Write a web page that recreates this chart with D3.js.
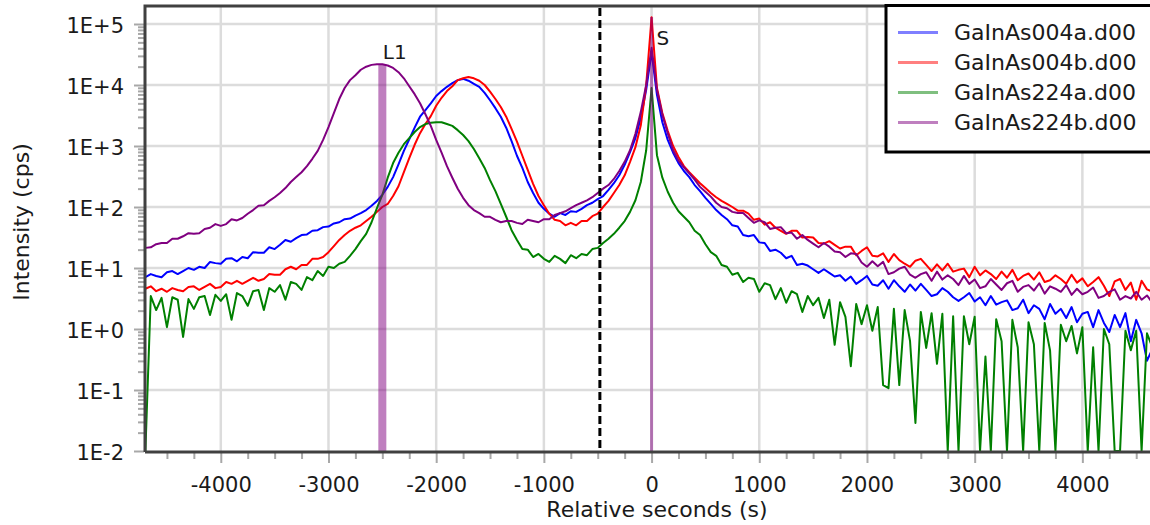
<!DOCTYPE html>
<html>
<head>
<meta charset="utf-8">
<script src="https://cdn.jsdelivr.net/npm/d3@7"></script>
<style>
  html, body { margin: 0; padding: 0; background: #ffffff; }
  svg { display: block; }
  text { font-family: "DejaVu Sans", Verdana, sans-serif; }
</style>
</head>
<body>
<svg id="chart" width="1150" height="525"></svg>
<script>
// Scan sampling grid: one sample every 50 s, starting at -4700 s
const tStart = -4700;
const tStep = 50;

// log10 of intensity (cps) for each sample; null = no counts recorded
const gainas004a = [
  0.85,0.90,0.87,0.85,0.93,0.95,0.90,0.95,1.00,0.97,
  1.02,1.00,1.10,1.08,1.07,1.15,1.16,1.11,1.18,1.16,
  1.26,1.25,1.25,1.34,1.31,1.38,1.46,1.43,1.49,1.54,
  1.55,1.61,1.62,1.67,1.68,1.73,1.75,1.80,1.81,1.86,
  1.90,1.95,2.02,2.10,2.20,2.33,2.49,2.70,2.92,3.11,
  3.30,3.48,3.59,3.70,3.82,3.90,3.97,4.03,4.08,4.10,
  4.07,4.02,3.97,3.87,3.75,3.62,3.48,3.30,3.08,2.84,
  2.64,2.41,2.23,2.07,1.97,1.89,1.84,1.90,1.87,1.93,
  1.92,1.97,2.03,2.07,2.13,2.18,2.28,2.39,2.52,2.69,
  2.90,3.13,3.46,3.92,4.54,3.84,3.39,3.10,2.89,2.72,
  2.59,2.49,2.36,2.26,2.15,2.05,1.95,1.87,1.80,1.70,
  1.68,1.54,1.52,1.54,1.42,1.41,1.28,1.30,1.25,1.16,
  1.20,1.05,1.07,1.04,0.98,0.92,0.98,0.92,0.86,0.88,
  0.79,0.86,0.74,0.80,0.87,0.73,0.71,0.80,0.66,0.80,
  0.70,0.61,0.73,0.63,0.74,0.64,0.54,0.57,0.67,0.61,
  0.52,0.46,0.52,0.59,0.45,0.52,0.39,0.54,0.40,0.44,
  0.47,0.31,0.34,0.48,0.26,0.39,0.33,0.16,0.41,0.25,
  0.33,0.18,0.36,0.11,0.25,0.28,0.03,0.31,0.10,-0.05,
  0.23,0.03,0.26,-0.20,0.15,-0.07,-0.52,-0.33
];

const gainas004b = [
  0.66,0.70,0.62,0.66,0.61,0.67,0.64,0.62,0.69,0.70,
  0.64,0.69,0.74,0.67,0.69,0.77,0.74,0.79,0.74,0.79,
  0.84,0.79,0.82,0.90,0.89,0.89,0.98,1.02,0.98,1.05,
  1.05,1.15,1.15,1.18,1.26,1.36,1.46,1.54,1.61,1.66,
  1.70,1.77,1.84,1.92,2.00,2.05,2.18,2.34,2.57,2.80,
  3.02,3.21,3.36,3.49,3.66,3.79,3.90,3.98,4.08,4.11,
  4.13,4.11,4.07,4.00,3.89,3.77,3.64,3.48,3.28,3.07,
  2.84,2.61,2.38,2.18,2.03,1.89,1.79,1.77,1.70,1.74,
  1.70,1.77,1.77,1.85,1.89,2.00,2.10,2.23,2.36,2.52,
  2.74,2.98,3.34,4.00,5.11,3.95,3.54,3.25,3.00,2.82,
  2.67,2.57,2.48,2.39,2.31,2.23,2.16,2.10,2.05,2.00,
  1.94,1.94,1.89,1.79,1.81,1.71,1.75,1.66,1.61,1.56,
  1.61,1.61,1.50,1.51,1.50,1.41,1.40,1.44,1.38,1.32,
  1.35,1.35,1.21,1.28,1.34,1.20,1.19,1.24,1.10,1.23,
  1.13,1.07,1.02,1.12,1.15,1.05,0.95,1.06,0.96,1.07,
  0.94,0.97,0.99,0.85,1.02,0.88,0.96,0.90,0.82,0.94,
  0.84,0.97,0.80,0.87,0.91,0.81,0.93,0.77,0.80,0.88,
  0.82,0.74,0.89,0.76,0.83,0.70,0.77,0.85,0.71,0.54,
  0.78,0.82,0.64,0.76,0.48,0.79,0.65,0.61
];

const gainas224a = [
  null,0.54,0.31,0.51,0.03,0.52,0.48,-0.13,0.49,0.33,
  0.52,0.54,0.23,0.56,0.46,0.57,0.15,0.59,0.54,0.38,
  0.62,0.64,0.31,0.67,0.61,0.72,0.48,0.77,0.74,0.64,
  0.85,0.80,0.95,0.87,1.02,1.00,1.07,1.10,1.20,1.31,
  1.44,1.56,1.75,1.98,2.20,2.48,2.72,2.89,3.03,3.13,
  3.23,3.31,3.36,3.38,3.39,3.39,3.36,3.33,3.26,3.18,
  3.08,2.95,2.80,2.64,2.44,2.26,2.05,1.84,1.62,1.46,
  1.31,1.30,1.18,1.23,1.15,1.10,1.20,1.15,1.08,1.21,
  1.16,1.23,1.21,1.31,1.33,1.41,1.48,1.56,1.66,1.77,
  1.92,2.11,2.41,2.93,3.95,2.85,2.48,2.25,2.07,1.93,
  1.84,1.75,1.61,1.54,1.39,1.26,1.20,1.05,1.02,0.89,
  0.92,0.77,0.84,0.82,0.61,0.75,0.72,0.49,0.67,0.43,
  0.62,0.57,0.28,0.54,0.39,0.51,0.18,0.48,-0.26,0.44,
  0.20,-0.61,0.41,0.08,0.39,-0.03,0.36,-0.92,-0.97,0.33,
  -0.92,0.31,-0.20,-1.54,0.28,-0.31,0.26,-0.57,0.25,null,
  0.21,null,0.21,-0.25,0.20,null,-0.45,null,0.16,-0.20,
  null,0.15,-0.30,null,0.11,-0.25,null,0.10,-0.35,null,
  0.07,-0.20,0.05,-0.40,0.03,null,-0.30,null,0.00,-0.25,
  null,null,-0.03,-0.35,-0.03,null,-0.07,-0.30
];

const gainas224b = [
  1.33,1.34,1.39,1.41,1.41,1.48,1.48,1.52,1.57,1.56,
  1.57,1.64,1.66,1.72,1.69,1.72,1.80,1.78,1.82,1.89,
  1.95,2.02,2.03,2.10,2.16,2.23,2.31,2.41,2.49,2.57,
  2.67,2.79,2.92,3.10,3.31,3.54,3.77,3.95,4.08,4.16,
  4.25,4.30,4.33,4.34,4.34,4.32,4.28,4.21,4.11,3.98,
  3.85,3.70,3.52,3.33,3.10,2.89,2.67,2.48,2.30,2.15,
  2.03,1.95,1.90,1.84,1.84,1.79,1.75,1.77,1.77,1.74,
  1.72,1.79,1.77,1.75,1.80,1.80,1.87,1.90,1.93,1.98,
  2.03,2.07,2.11,2.16,2.23,2.30,2.36,2.46,2.59,2.74,
  2.93,3.20,3.56,4.00,4.61,3.92,3.51,3.21,2.93,2.76,
  2.65,2.55,2.45,2.33,2.25,2.17,2.07,2.00,1.98,1.92,
  1.90,1.90,1.82,1.74,1.78,1.75,1.64,1.66,1.67,1.57,
  1.58,1.48,1.54,1.46,1.40,1.34,1.41,1.35,1.27,1.26,
  1.18,1.24,1.23,1.09,1.02,1.11,1.03,1.10,0.90,0.93,
  0.99,1.02,0.89,0.84,0.90,0.93,0.79,0.94,0.81,0.88,
  0.82,0.72,0.87,0.74,0.81,0.67,0.70,0.82,0.73,0.64,
  0.75,0.79,0.61,0.69,0.72,0.63,0.75,0.58,0.70,0.66,
  0.61,0.72,0.56,0.66,0.57,0.61,0.68,0.51,0.54,0.61,
  0.65,0.48,0.54,0.50,0.61,0.48,0.55,0.43
];

const seriesNames  = ["GaInAs004a.d00", "GaInAs004b.d00", "GaInAs224a.d00", "GaInAs224b.d00"];
const seriesValues = [gainas004a, gainas004b, gainas224a, gainas224b];
const seriesColors = ["#0000ff", "#ff0000", "#008000", "#800080"];

const yTicks      = [1e-2, 1e-1, 1e0, 1e1, 1e2, 1e3, 1e4, 1e5];
const yTickLabels = ["1E-2", "1E-1", "1E+0", "1E+1", "1E+2", "1E+3", "1E+4", "1E+5"];
const xTicks      = [-4000, -3000, -2000, -1000, 0, 1000, 2000, 3000, 4000];
const xTickLabels = ["-4000", "-3000", "-2000", "-1000", "0", "1000", "2000", "3000", "4000"];

// Peak markers (position in s, marker height in cps) and the cursor line
const markerNames = ["L1", "S"];
const markerTimes = [-2500, 0];
const markerCps   = [2.2e4, 1.3e5];
const cursorTime  = -480;

// ---------------------------------------------------------------
const svg = d3.select("#chart");
const P = { left: 145, top: 6, right: 1150, bottom: 452 };

const x = d3.scaleLinear().domain([-4700, 4628]).range([145.4, 1150]);
const y = d3.scaleLog().domain([0.01, 1e5]).range([451, 24]);
const floorCps = 0.01;

svg.append("defs").append("clipPath").attr("id", "plotClip")
  .append("rect")
  .attr("x", P.left).attr("y", P.top)
  .attr("width", 1160 - P.left).attr("height", 451 - P.top);

// grid
const grid = svg.append("g");
grid.selectAll("line.h").data(yTicks.filter(v => v > floorCps)).enter().append("line")
  .attr("x1", P.left).attr("x2", 1150)
  .attr("y1", d => y(d)).attr("y2", d => y(d))
  .attr("stroke", "#dcdcdc").attr("stroke-width", 2.5);
grid.selectAll("line.v").data(xTicks).enter().append("line")
  .attr("x1", d => x(d)).attr("x2", d => x(d))
  .attr("y1", P.top).attr("y2", 451)
  .attr("stroke", "#dcdcdc").attr("stroke-width", 2.5);

// curves
const plotArea = svg.append("g").attr("clip-path", "url(#plotClip)");
const line = d3.line()
  .x((d, i) => x(tStart + i * tStep))
  .y(d => y(d == null ? floorCps : Math.pow(10, d)));

seriesValues.forEach((vals, s) => {
  plotArea.append("path")
    .datum(vals)
    .attr("d", line)
    .attr("fill", "none")
    .attr("stroke", seriesColors[s])
    .attr("stroke-width", 2)
    .attr("stroke-linejoin", "round");
});

// peak markers
const markerWidths = [8, 3];
markerTimes.forEach((t, i) => {
  plotArea.append("rect")
    .attr("x", x(t) - markerWidths[i] / 2)
    .attr("width", markerWidths[i])
    .attr("y", y(markerCps[i]))
    .attr("height", 451 - y(markerCps[i]))
    .attr("fill", "#800080")
    .attr("fill-opacity", 0.5);
});

// cursor
svg.append("line")
  .attr("x1", x(cursorTime)).attr("x2", x(cursorTime))
  .attr("y1", P.top + 2).attr("y2", 451)
  .attr("stroke", "#000").attr("stroke-width", 3)
  .attr("stroke-dasharray", "8,4");

// marker labels
svg.append("text").attr("x", x(markerTimes[0]) + 0.5).attr("y", 59)
  .attr("font-size", 20).attr("fill", "#1a1a1a").text(markerNames[0]);
svg.append("text").attr("x", x(markerTimes[1]) + 5).attr("y", 45)
  .attr("font-size", 20).attr("fill", "#1a1a1a").text(markerNames[1]);

// axes
function styleAxis(g, fontSize) {
  g.attr("font-family", null).attr("font-size", null);
  g.select(".domain").remove();
  g.selectAll(".tick line").attr("stroke", "#a8a8a8").attr("stroke-width", 2);
  g.selectAll(".tick text").attr("fill", "#1a1a1a").style("font-size", fontSize + "px");
}

const yMinor = [];
for (let e = -2; e < 5; e++) for (let m = 2; m < 10; m++) yMinor.push(m * Math.pow(10, e));
const gyMinor = svg.append("g").attr("transform", `translate(${P.left - 1},0)`)
  .call(d3.axisLeft(y).tickValues(yMinor).tickSize(6).tickFormat(""));
styleAxis(gyMinor, 21);

const gy = svg.append("g").attr("transform", `translate(${P.left - 1},0)`)
  .call(d3.axisLeft(y).tickValues(yTicks).tickSize(10).tickPadding(10)
    .tickFormat((d, i) => yTickLabels[i]));
styleAxis(gy, 21);
gy.selectAll(".tick text").attr("dy", "0.42em");

const xMinor = d3.range(-4500, 4501, 250).filter(v => v % 1000 !== 0);
const gxMinor = svg.append("g").attr("transform", `translate(0,${P.bottom + 1})`)
  .call(d3.axisBottom(x).tickValues(xMinor).tickSize(6).tickFormat(""));
styleAxis(gxMinor, 21);

const gx = svg.append("g").attr("transform", `translate(0,${P.bottom + 1})`)
  .call(d3.axisBottom(x).tickValues(xTicks).tickSize(10).tickPadding(14)
    .tickFormat((d, i) => xTickLabels[i]));
styleAxis(gx, 21);

// frame
svg.append("path")
  .attr("d", `M${P.left},${P.bottom} V${P.top} H1152 M${P.left},${P.bottom} H1152`)
  .attr("fill", "none").attr("stroke", "#404040").attr("stroke-width", 3);

// axis titles
svg.append("text")
  .attr("transform", "translate(29,222) rotate(-90)")
  .attr("text-anchor", "middle").attr("font-size", 22).attr("fill", "#1a1a1a")
  .text("Intensity (cps)");
svg.append("text")
  .attr("x", 657).attr("y", 517)
  .attr("text-anchor", "middle").attr("font-size", 22).attr("fill", "#1a1a1a")
  .text("Relative seconds (s)");

// legend
const legend = svg.append("g");
legend.append("rect")
  .attr("x", 886).attr("y", 5.5).attr("width", 280).attr("height", 146.5)
  .attr("fill", "#fff").attr("stroke", "#000").attr("stroke-width", 3);
seriesNames.forEach((name, i) => {
  const yy = 32.5 + i * 30;
  legend.append("line")
    .attr("x1", 898).attr("x2", 938).attr("y1", yy).attr("y2", yy)
    .attr("stroke", seriesColors[i]).attr("stroke-opacity", 0.5).attr("stroke-width", 3);
  legend.append("text")
    .attr("x", 954).attr("y", 40 + i * 30)
    .attr("font-size", 22).attr("fill", "#1a1a1a")
    .text(name);
});
</script>
</body>
</html>
